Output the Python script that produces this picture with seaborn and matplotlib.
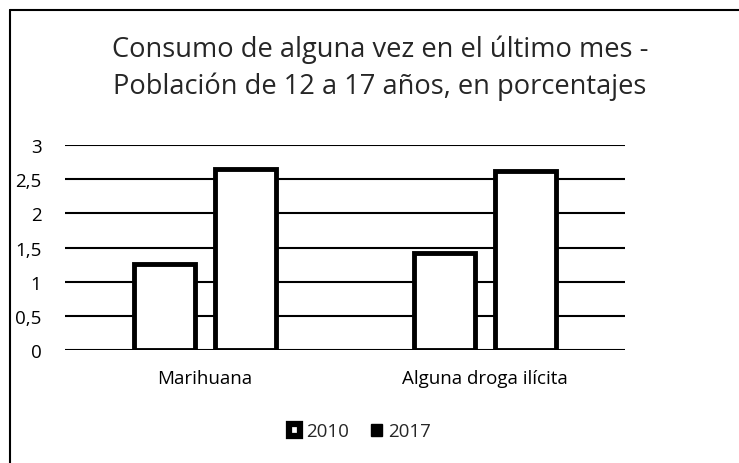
import pandas as pd
import matplotlib.pyplot as plt
import seaborn as sns
from matplotlib.ticker import FuncFormatter
from matplotlib.patches import Patch
from matplotlib.lines import Line2D

categories = ["Marihuana", "Alguna droga ilícita"]
years = ["2010", "2017"]
values_2010 = [1.26, 1.42]
values_2017 = [2.65, 2.62]
yticks = [0, 0.5, 1, 1.5, 2, 2.5, 3]

df = pd.DataFrame({
    "categoria": categories * 2,
    "año": [years[0]] * 2 + [years[1]] * 2,
    "valor": values_2010 + values_2017,
})

sns.set_style("white")
plt.rcParams["font.family"] = ["Open Sans", "DejaVu Sans"]

fig = plt.figure(figsize=(7.39, 4.64), dpi=100)
ax = fig.add_axes([0.088, 0.2435, 0.758, 0.4418])

sns.barplot(data=df, x="categoria", y="valor", hue="año", hue_order=years,
            palette=["white", "white"], width=0.58, gap=0.25,
            edgecolor="black", linewidth=3.5, legend=False, ax=ax, zorder=3)

ax.set_ylim(0, 3)
ax.set_xlim(-0.5, 1.5)
ax.set_yticks(yticks)
ax.yaxis.set_major_formatter(FuncFormatter(lambda v, p: f"{v:g}".replace(".", ",")))
ax.grid(axis="y", color="black", linewidth=1.5, zorder=0)
ax.set_axisbelow(True)
sns.despine(ax=ax, left=True, bottom=True)
ax.tick_params(axis="both", length=0, labelsize=13.5, colors="black")
ax.tick_params(axis="y", pad=17)
ax.tick_params(axis="x", pad=14)
ax.set_xlabel("")
ax.set_ylabel("")

fig.text(0.514, 0.852, "Consumo de alguna vez en el último mes -\nPoblación de 12 a 17 años, en porcentajes",
         ha="center", va="center", fontsize=19.6, linespacing=1.4)

handles = [Patch(facecolor="white", edgecolor="black", linewidth=4.5),
           Patch(facecolor="black", edgecolor="black", linewidth=1)]
fig.legend(handles, years, loc="center", bbox_to_anchor=(0.487, 0.068), ncol=2,
           frameon=False, fontsize=13.5, handlelength=0.6, handleheight=0.6,
           handletextpad=0.3, columnspacing=1.2)

fig.add_artist(Line2D([0.0135, 0.0135], [0, 0.977], color="black", linewidth=1.5))
fig.add_artist(Line2D([0.0135, 1.0], [0.977, 0.977], color="black", linewidth=1.5))

fig.savefig("out.png", dpi=100)
